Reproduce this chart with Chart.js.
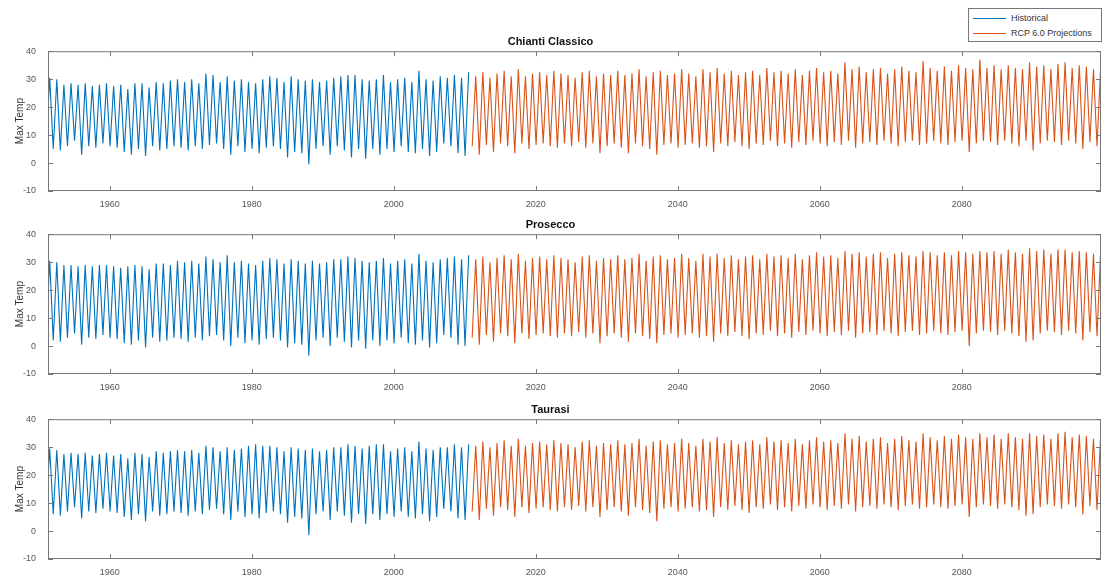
<!DOCTYPE html>
<html>
<head>
<meta charset="utf-8">
<script src="https://cdn.jsdelivr.net/npm/chart.js@4"></script>
<style>
  body { margin: 0; background: #fff; }
  #wrap { position: relative; width: 1103px; height: 581px; overflow: hidden; font-family: "Liberation Sans", Arial, sans-serif; }
  #wrap canvas { position: absolute; left: 0; }
  .legend { position: absolute; left: 968px; top: 8px; width: 132px; height: 32px; border: 1px solid #777; background: #fff; font-size: 9px; color: #333; }
  .legend .row { position: absolute; left: 4px; height: 12px; line-height: 12px; white-space: nowrap; }
  .legend .swatch { display: inline-block; width: 33px; height: 1px; vertical-align: middle; margin-right: 5px; }
</style>
</head>
<body>
<div id="wrap">
  <canvas id="c1" width="1103" height="213" style="top:0px"></canvas>
  <canvas id="c2" width="1103" height="213" style="top:183px"></canvas>
  <canvas id="c3" width="1103" height="213" style="top:368px"></canvas>
  <div class="legend">
    <div class="row" style="top:3px"><span class="swatch" style="background:#0072BD"></span>Historical</div>
    <div class="row" style="top:18px"><span class="swatch" style="background:#D95319"></span>RCP 6.0 Projections</div>
  </div>
</div>
<script>
// categories
const histYears = Array.from({ length: 60 }, (_, i) => 1951 + i); // 1951..2010
const projYears = Array.from({ length: 89 }, (_, i) => 2011 + i); // 2011..2099
const panelTitles = ["Chianti Classico", "Prosecco", "Taurasi"];
const xTicks = [1960, 1980, 2000, 2020, 2040, 2060, 2080];
const yTicks = [-10, 0, 10, 20, 30, 40];

// Chianti Classico - summer peaks / winter troughs per year
const chiantiHistPeak = [
  30.5, 30, 28, 28.5, 28, 28.5, 27.5, 28, 28.5, 27.5,
  28, 26.5, 28.5, 28.5, 27, 29, 28.5, 29.5, 30, 29,
  30, 28.5, 32, 31.5, 29, 31, 29.5, 30, 29, 28.5,
  30, 31, 30.5, 29, 31, 30, 29.5, 30, 29, 29.5,
  30.5, 31, 31.5, 31.5, 30, 29.5, 30, 31.5, 29, 30,
  30.5, 29, 33, 30, 29.5, 31, 30.5, 31.5, 30.5, 32.5
];
const chiantiHistLow = [
  7, 5, 4.5, 6, 8, 3, 6, 5.5, 7, 6,
  5.5, 4, 3, 5, 2.5, 6, 4.5, 5, 6, 5.5,
  4.5, 6, 5, 6.5, 7, 5, 3, 6, 4, 5,
  3.5, 5.5, 6, 5, 2, 4, 3.5, -0.5, 5, 6,
  3, 6, 4.5, 2, 5, 1.5, 5, 3, 5, 4,
  6, 4, 3.5, 5, 2.5, 4, 7, 6, 3.5, 2.5
];
const chiantiProjPeak = [
  31, 32.5, 30.5, 32, 33, 31, 33.5, 31, 32, 32.5,
  31.5, 33, 32, 31.5, 30.5, 32.5, 33, 31, 32, 31.5,
  33, 31.5, 32, 33.5, 31, 32.5, 33, 31.5, 32, 33.5,
  32, 31, 33.5, 32.5, 34, 32, 33, 31.5, 32.5, 33,
  31.5, 34, 32.5, 33, 32, 33.5, 31.5, 33, 34, 32.5,
  33, 32, 36, 33.5, 34.5, 32.5, 33.5, 34, 32, 33.5,
  34.5, 33, 32.5, 36.5, 34, 33, 34.5, 33, 35, 34,
  33.5, 37, 34, 35, 33.5, 35, 34, 33.5, 36, 34.5,
  35, 33.5, 35.5, 36, 34, 35, 34.5, 33.5, 34
];
const chiantiProjLow = [
  6, 3, 6.5, 4, 7, 6, 3.5, 7, 5, 6.5,
  7, 6, 5.5, 7, 6, 7.5, 5.5, 7, 3.5, 6,
  7, 5.5, 3.5, 7, 6, 5, 3, 6.5, 7, 5.5,
  6.5, 7, 5.5, 6, 4, 7, 6, 7.5, 6, 5,
  7, 6.5, 8, 6, 7, 5.5, 7.5, 6.5, 8, 7,
  6, 7.5, 6.5, 8, 5.5, 7, 7.5, 6.5, 8, 7,
  6, 7.5, 8, 6.5, 7, 8, 7, 6.5, 7.5, 8,
  4, 7, 8, 7.5, 6.5, 8, 7, 6, 8, 4.5,
  7, 8, 7.5, 6.5, 8, 7, 5, 7.5, 6
];

// Prosecco
const proseccoHistPeak = [
  30.5, 30, 29, 29, 28.5, 29, 28.5, 29, 29, 28.5,
  28, 28.5, 29, 28.5, 27.5, 29.5, 29.5, 29, 30.5, 30,
  30.5, 29.5, 32, 31, 30, 32.5, 30, 30.5, 29.5, 29,
  30.5, 31.5, 31, 29.5, 31, 30.5, 29.5, 30.5, 29.5, 30,
  31, 31, 32, 31.5, 30.5, 30, 30.5, 31.5, 29.5, 30.5,
  31, 29.5, 33, 30.5, 30, 31, 31.5, 32, 31, 32.5
];
const proseccoHistLow = [
  4, 2, 1.5, 3, 4.5, 0.5, 3, 2.5, 4, 3,
  2.5, 1, 0.5, 2, -0.5, 3, 1.5, 2, 3, 2.5,
  1.5, 3, 2, 3.5, 4, 2, 0, 3, 1, 2,
  0.5, 2.5, 3, 2, -0.5, 1, 0.5, -3.5, 2, 3,
  0, 3, 1.5, -0.5, 2, -1, 2, 0, 2, 1,
  3, 1, 0.5, 2, -0.5, 1, 4, 3, 0.5, 0
];
const proseccoProjPeak = [
  31, 32, 30, 31.5, 32.5, 31, 33, 30.5, 31.5, 32,
  31, 32.5, 31.5, 31, 30, 32, 32.5, 30.5, 31.5, 31,
  32.5, 31, 31.5, 33, 30.5, 32, 32.5, 31, 31.5, 33,
  31.5, 30.5, 33, 32, 33, 31.5, 32.5, 31, 32, 32.5,
  31, 33, 32, 32.5, 31.5, 33, 31, 32.5, 33.5, 32,
  32.5, 31.5, 34, 33, 33.5, 32, 33, 33.5, 31.5, 33,
  33.5, 32.5, 32, 34, 33.5, 32.5, 33.5, 32.5, 34, 33.5,
  33, 34, 33.5, 34, 33, 34.5, 33.5, 33, 35, 34,
  34.5, 33, 34.5, 34.5, 33.5, 34, 33.5, 33, 33.5
];
const proseccoProjLow = [
  3, 0.5, 4, 1.5, 4.5, 3.5, 1, 4.5, 2.5, 4,
  4.5, 3.5, 3, 4.5, 3.5, 5, 3, 4.5, 1, 3.5,
  4.5, 3, 1.5, 4.5, 3.5, 2.5, 1, 4, 4.5, 3,
  4, 4.5, 3, 3.5, 1.5, 4.5, 3.5, 5, 3.5, 2.5,
  4.5, 4, 5.5, 3.5, 4.5, 3, 5, 4, 5.5, 4.5,
  3.5, 5, 4, 5.5, 3, 4.5, 5, 4, 5.5, 4.5,
  3.5, 5, 5.5, 4, 4.5, 5.5, 4.5, 4, 5, 5.5,
  0, 4.5, 5.5, 5, 4, 5.5, 4.5, 3.5, 1.5, 2,
  4.5, 5.5, 5, 4, 5.5, 4.5, 2, 5, 3.5
];

// Taurasi
const taurasiHistPeak = [
  29.5, 29, 27.5, 28, 27.5, 28, 27, 27.5, 28, 27,
  27.5, 26, 28, 27.5, 26.5, 28.5, 28, 28.5, 29, 28.5,
  29, 28, 30.5, 30, 28.5, 30, 29, 29.5, 30.5, 31,
  30.5, 30.5, 30, 28.5, 30, 29.5, 29, 29.5, 28.5, 29,
  30, 30, 31, 30.5, 29.5, 30.5, 31, 31, 28.5, 29.5,
  30, 28.5, 32, 29.5, 29, 30, 30, 31, 30, 31
];
const taurasiHistLow = [
  7.5, 6, 5.5, 7, 8.5, 4.5, 7, 6.5, 8, 7,
  6.5, 5, 4, 6, 3.5, 7, 5.5, 6, 7, 6.5,
  5.5, 7, 6, 7.5, 8, 6, 4, 7, 5, 6,
  4.5, 6.5, 7, 6, 3, 5, 4.5, -1.5, 6, 7,
  4, 7, 5.5, 3, 6, 2.5, 6, 4, 6, 5,
  7, 5, 4.5, 6, 3.5, 5, 8, 7, 4.5, 4
];
const taurasiProjPeak = [
  30.5, 32, 30, 31.5, 32.5, 30.5, 33, 30.5, 31.5, 32,
  31, 32.5, 31.5, 31, 30, 32, 32.5, 30.5, 31.5, 31,
  32.5, 31, 31.5, 33, 30.5, 32, 32.5, 31, 31.5, 33,
  31.5, 30.5, 33, 32, 33.5, 31.5, 32.5, 31, 32, 32.5,
  31, 33.5, 32, 32.5, 31.5, 33, 31, 32.5, 33.5, 32,
  32.5, 31.5, 35, 33, 34, 32, 33, 33.5, 31.5, 33,
  34, 32.5, 32, 35, 33.5, 32.5, 34, 33, 34.5, 33.5,
  33, 35, 33.5, 34.5, 33, 35, 33.5, 33, 35, 34,
  34.5, 33, 35, 35.5, 33.5, 34.5, 34, 33, 34
];
const taurasiProjLow = [
  7, 4, 8, 5.5, 8.5, 7.5, 5, 8.5, 6.5, 8,
  8.5, 7.5, 7, 8.5, 7.5, 9, 7, 8.5, 5, 7.5,
  8.5, 7, 5.5, 8.5, 7.5, 6.5, 3.5, 8, 8.5, 7,
  8, 8.5, 7, 7.5, 5, 8.5, 7.5, 9, 7.5, 6.5,
  8.5, 8, 9.5, 7.5, 8.5, 7, 9, 8, 9.5, 8.5,
  7.5, 9, 8, 9.5, 7, 8.5, 9, 8, 9.5, 8.5,
  7.5, 9, 9.5, 8, 8.5, 9.5, 8.5, 8, 9, 9.5,
  5, 8.5, 9.5, 9, 8, 9.5, 8.5, 7.5, 5.5, 6,
  8.5, 9.5, 9, 8, 9.5, 8.5, 6, 9, 7.5
];

const FONT = '"Liberation Sans", Arial, sans-serif';
Chart.defaults.font.family = FONT;

// winter low in January, summer high in July
function seasonal(years, lows, peaks) {
  const pts = [];
  years.forEach((yr, i) => {
    pts.push({ x: yr + 0.04, y: lows[i] });
    pts.push({ x: yr + 0.54, y: peaks[i] });
  });
  return pts;
}

// MATLAB-style box with inward ticks
const boxPlugin = {
  id: "box",
  afterDraw(chart) {
    const { ctx, chartArea: a, scales: { x, y } } = chart;
    ctx.save();
    ctx.strokeStyle = "#777";
    ctx.lineWidth = 1;
    ctx.strokeRect(a.left + 0.5, a.top + 0.5, a.right - a.left - 1, a.bottom - a.top - 1);
    ctx.beginPath();
    xTicks.forEach(v => {
      const px = Math.round(x.getPixelForValue(v)) + 0.5;
      ctx.moveTo(px, a.bottom); ctx.lineTo(px, a.bottom - 5);
      ctx.moveTo(px, a.top); ctx.lineTo(px, a.top + 5);
    });
    yTicks.forEach(v => {
      const py = Math.round(y.getPixelForValue(v)) + 0.5;
      ctx.moveTo(a.left, py); ctx.lineTo(a.left + 5, py);
      ctx.moveTo(a.right, py); ctx.lineTo(a.right - 5, py);
    });
    ctx.stroke();
    ctx.restore();
  }
};

function makeChart(id, title, histPeak, histLow, projPeak, projLow) {
  new Chart(document.getElementById(id), {
    type: "line",
    data: {
      datasets: [
        { label: "Historical", data: seasonal(histYears, histLow, histPeak),
          borderColor: "#0072BD", borderWidth: 1.1, pointRadius: 0 },
        { label: "RCP 6.0 Projections", data: seasonal(projYears, projLow, projPeak),
          borderColor: "#D95319", borderWidth: 1.1, pointRadius: 0 }
      ]
    },
    options: {
      responsive: false,
      animation: false,
      devicePixelRatio: 1,
      layout: { padding: { top: 35, left: 0, right: 2, bottom: 0 } },
      plugins: {
        legend: { display: false },
        tooltip: { enabled: false },
        title: { display: true, text: title, color: "#111",
                 font: { size: 11, weight: "bold" }, padding: { top: 0, bottom: 3 } }
      },
      scales: {
        x: {
          type: "linear", min: 1951.3, max: 2099.6,
          grid: { display: false }, border: { display: false },
          afterBuildTicks: s => { s.ticks = xTicks.map(v => ({ value: v })); },
          afterFit: s => { s.height = 22; },
          ticks: { font: { size: 9 }, color: "#555", padding: 0, maxRotation: 0,
                   callback: v => String(v) }
        },
        y: {
          min: -10, max: 40,
          grid: { display: false }, border: { display: false },
          afterBuildTicks: s => { s.ticks = yTicks.map(v => ({ value: v })); },
          afterFit: s => { s.width = 48; },
          ticks: { font: { size: 9 }, color: "#555", padding: 4 },
          title: { display: true, text: "Max Temp", font: { size: 10 }, color: "#333", padding: { top: 14 } }
        }
      }
    },
    plugins: [boxPlugin]
  });
}

makeChart("c1", panelTitles[0], chiantiHistPeak, chiantiHistLow, chiantiProjPeak, chiantiProjLow);
makeChart("c2", panelTitles[1], proseccoHistPeak, proseccoHistLow, proseccoProjPeak, proseccoProjLow);
makeChart("c3", panelTitles[2], taurasiHistPeak, taurasiHistLow, taurasiProjPeak, taurasiProjLow);
</script>
</body>
</html>
